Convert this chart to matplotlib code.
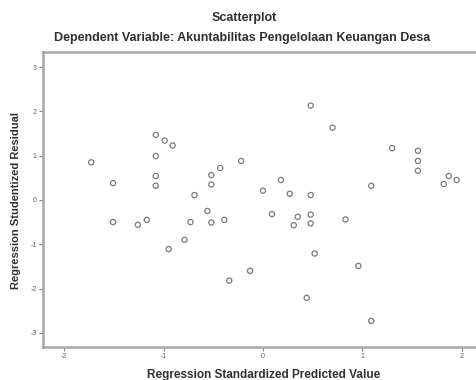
import matplotlib
matplotlib.use("Agg")
import matplotlib.pyplot as plt

# Regression standardized predicted value (x) vs studentized residual (y)
pred = [-1.73, -1.51, -1.08, -0.99, -0.91, -1.08, -1.08, -1.08, -0.69, -0.52,
        -0.43, -0.52, -0.22, -0.56, 0.48, 0.70, 1.30, 1.56, 1.56, 1.56,
        1.87, 1.95, 1.82, 1.09, 0.18, 0.00, 0.27, 0.48, 0.09, 0.35,
        0.48, 0.83, -1.51, -1.26, -1.17, -0.73, -0.52, -0.39, -0.79, -0.95,
        -0.34, -0.13, 0.31, 0.48, 0.52, 0.96, 0.44, 1.09]
resid = [0.85, 0.38, 1.47, 1.34, 1.23, 0.99, 0.54, 0.32, 0.11, 0.56,
         0.72, 0.35, 0.88, -0.25, 2.13, 1.63, 1.17, 1.11, 0.88, 0.66,
         0.54, 0.45, 0.36, 0.32, 0.45, 0.21, 0.14, 0.11, -0.32, -0.38,
         -0.33, -0.44, -0.50, -0.56, -0.45, -0.50, -0.51, -0.45, -0.90, -1.11,
         -1.82, -1.60, -0.57, -0.53, -1.21, -1.49, -2.21, -2.73]

xticks = [-2, -1, 0, 1, 2]
yticks = [-3, -2, -1, 0, 1, 2, 3]

plt.rcParams['font.family'] = ['Liberation Sans', 'DejaVu Sans']

fig = plt.figure(figsize=(4.76, 3.8), dpi=100)
ax = fig.add_axes([43 / 476, 33 / 380, 437 / 476, 295 / 380])

ax.scatter(pred, resid, s=14, facecolors='none', edgecolors='#7a7a7a', linewidths=0.9)

ax.set_xlim(-2.215, 2.185)
ax.set_ylim(-3.32, 3.34)
ax.set_xticks(xticks)
ax.set_yticks(yticks)
ax.set_xticklabels([str(t) for t in xticks])
ax.set_yticklabels([str(t) for t in yticks])
ax.tick_params(length=3, width=0.8, color='#808080', labelsize=5, labelcolor='#606060', pad=1.5)

for side in ['left', 'bottom', 'top']:
    ax.spines[side].set_color('#a8a8a8')
    ax.spines[side].set_linewidth(1.8)
ax.spines['right'].set_visible(False)

ax.set_xlabel('Regression Standardized Predicted Value', fontsize=8.5, fontweight='bold',
              color='#303030', va='center')
ax.xaxis.set_label_coords(0.5046, -0.095)
ax.set_ylabel('Regression Studentized Residual', fontsize=8, fontweight='bold',
              color='#303030', va='center')
ax.yaxis.set_label_coords(-0.062, 0.498)

fig.text(0.513, 0.953, 'Scatterplot', ha='center', va='center', fontsize=9,
         fontweight='bold', color='#303030')
fig.text(0.509, 0.9, 'Dependent Variable: Akuntabilitas Pengelolaan Keuangan Desa',
         ha='center', va='center', fontsize=9, fontweight='bold', color='#303030')

fig.savefig('out.png', dpi=100)
